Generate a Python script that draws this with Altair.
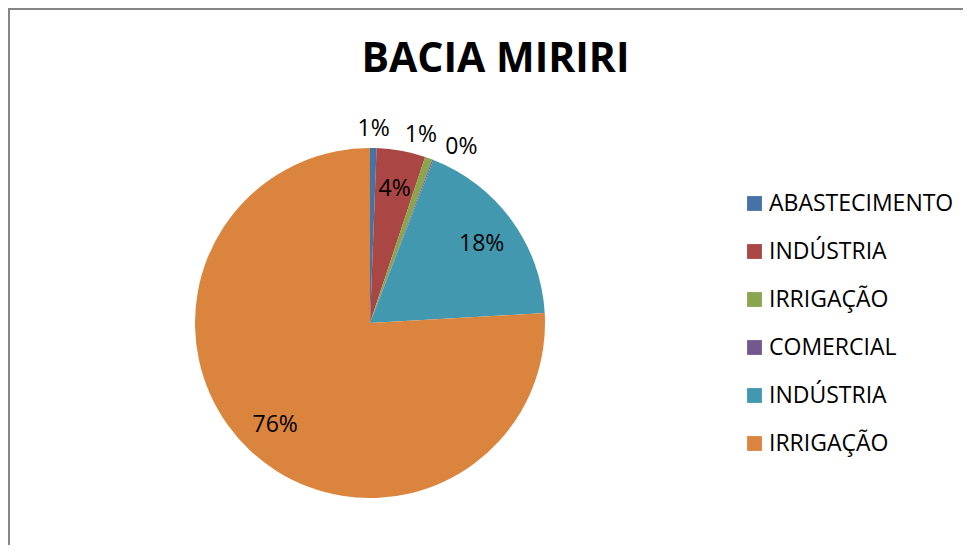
import altair as alt
import pandas as pd

# ---- data ----
categories = ["ABASTECIMENTO", "INDÚSTRIA", "IRRIGAÇÃO", "COMERCIAL", "INDÚSTRIA ", "IRRIGAÇÃO "]
shares = [0.6, 4.5, 0.7, 0.1, 18.2, 75.9]
labels = ["1%", "4%", "1%", "0%", "18%", "76%"]
colors = ["#4572A7", "#AA4643", "#89A54E", "#71588F", "#4198AF", "#DB843D"]
title_text = "BACIA MIRIRI"

df = pd.DataFrame({
    "categoria": categories,
    "valor": shares,
    "rotulo": labels,
    "ordem": list(range(len(categories))),
})

FONT = "Open Sans"
W, H = 955, 537
CX, CY, R = 362, 315, 175

base = alt.Chart(df).encode(
    theta=alt.Theta("valor:Q", stack=True),
    order=alt.Order("ordem:Q"),
)

pie = base.mark_arc(outerRadius=R).encode(
    x=alt.value(CX),
    y=alt.value(CY),
    color=alt.Color(
        "categoria:N",
        scale=alt.Scale(domain=categories, range=colors),
        legend=alt.Legend(
            title=None,
            orient="none",
            legendX=735,
            legendY=184,
            symbolType="square",
            symbolSize=220,
            symbolStrokeWidth=0,
            labelFont=FONT,
            labelFontSize=23,
            labelColor="#000000",
            labelOffset=3,
            rowPadding=24,
            padding=0,
            labelLimit=400,
        ),
    ),
)

text = base.mark_text(
    font=FONT,
    fontSize=23,
    color="#000000",
    radius=alt.expr("datum.valor >= 2 ? 138 : 196"),
    dx=alt.expr("datum.categoria === 'COMERCIAL' ? 21 : (datum.categoria === 'IRRIGAÇÃO' ? -15 : 0)"),
    dy=alt.expr("datum.categoria === 'COMERCIAL' ? 7 : (datum.categoria === 'IRRIGAÇÃO' ? -3 : 2)"),
).encode(
    x=alt.value(CX),
    y=alt.value(CY),
    text="rotulo:N",
)

frame_df = pd.DataFrame({"k": [0]})
border_left = alt.Chart(frame_df).mark_rule(color="#868686", strokeWidth=2).encode(
    x=alt.value(1), y=alt.value(0), y2=alt.value(H)
)
border_top = alt.Chart(frame_df).mark_rule(color="#868686", strokeWidth=2).encode(
    x=alt.value(0), x2=alt.value(W), y=alt.value(1)
)

chart = alt.layer(border_left, border_top, pie, text).properties(
    width=W,
    height=H,
    padding=0,
    autosize=alt.AutoSizeParams(type="none"),
    title=alt.Title(
        title_text,
        font=FONT,
        fontSize=41,
        fontWeight="bold",
        color="#000000",
        anchor="middle",
        dx=10,
        dy=78,
    ),
).configure_view(stroke=None).configure(background="white")

chart.save("out.html", embed_options={"renderer": "svg", "actions": False})
